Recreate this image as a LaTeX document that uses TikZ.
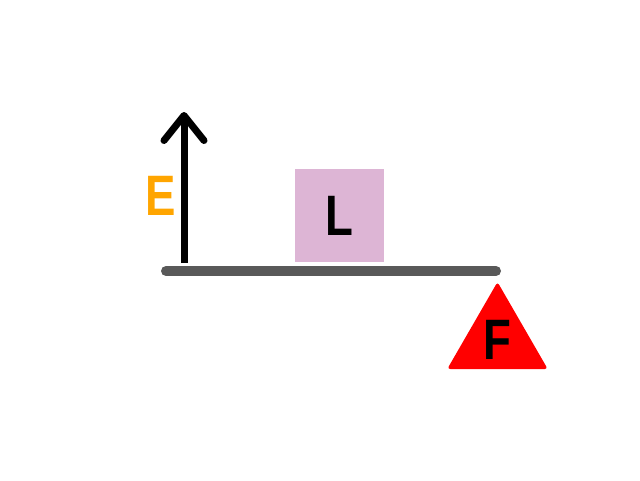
\documentclass[tikz,border=0pt]{standalone}
\usepackage{fontspec}
\setmainfont{Liberation Sans}
\newfontfamily\letterfont[FakeStretch=0.8]{Liberation Sans}
\usepackage{tikz}
\usepackage{xcolor}
\usetikzlibrary{arrows.meta,shapes.geometric}
\definecolor{lever-gray}{HTML}{595959}
\definecolor{load-pink}{HTML}{DDB5D5}
\definecolor{effort-orange}{HTML}{FFA500}
\tikzset{
    lever-bar/.style = {draw=lever-gray, line width=10pt, line cap=round},
    effort-arrow/.style = {draw=black, line width=7pt, -{Straight Barb[length=25pt, width=40pt, round]}},
    big-letter/.style = {font=\letterfont\fontsize{57}{60}\bfseries\selectfont},
    load-box/.style = {fill=load-pink, rectangle, minimum width=89pt, minimum height=93pt, inner sep=0pt, big-letter},
    fulcrum/.style = {fill=red, regular polygon, regular polygon sides=3, minimum size=116pt, inner sep=0pt, rounded corners=3pt, big-letter},
}
\begin{document}
\begin{tikzpicture}[x=1pt, y=-1pt]
\useasboundingbox (0,0) rectangle (640,480);
% lever and effort
\coordinate (bar-left) at (166,271);
\coordinate (bar-right) at (496,271);
\coordinate (effort-base) at (184,263);
\coordinate (effort-top) at (184,112);
\draw[lever-bar] (bar-left) -- (bar-right);
\draw[effort-arrow] (effort-base) -- (effort-top);
\node[big-letter, text=effort-orange] (effort) at (161,196) {E};
% load and fulcrum
\node[load-box] (load) at (339.5,215.5) {L};
\node[fulcrum] (fulcrum) at (497.5,340) {F};
\end{tikzpicture}
\end{document}
